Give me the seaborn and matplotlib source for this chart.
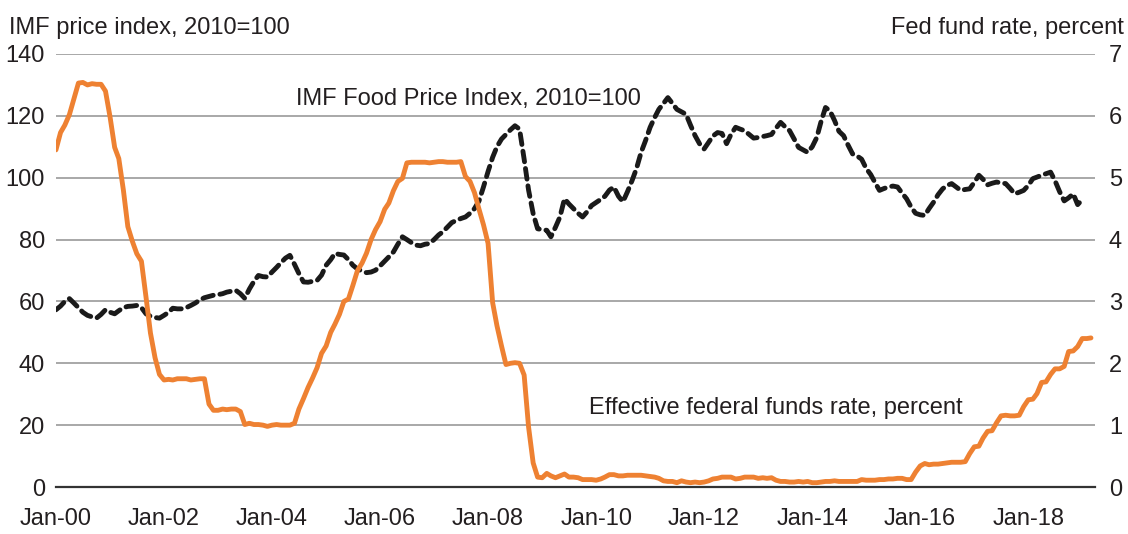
import pandas as pd
import numpy as np
import matplotlib
matplotlib.use('Agg')
import matplotlib.pyplot as plt
import matplotlib.dates as mdates
import seaborn as sns

# IMF Food Price Index (2010=100), monthly from Jan 2000 to Jan 2019
food_index = [
    57.3, 58.5, 60.0, 60.9, 59.5, 58.0, 56.5, 55.5, 55.0, 54.6, 55.8, 57.3,         # 2000
    56.5, 56.0, 57.0, 58.0, 58.4, 58.5, 58.7, 58.0, 56.0, 55.2, 54.8, 54.6,         # 2001
    55.5, 56.5, 57.8, 57.6, 57.6, 58.0, 58.7, 59.5, 60.5, 61.2, 61.6, 62.0,         # 2002
    62.2, 62.5, 63.0, 63.3, 63.6, 62.5, 61.0, 64.0, 66.5, 68.4, 68.0, 67.9,         # 2003
    69.5, 71.0, 72.5, 74.0, 74.9, 72.0, 69.0, 66.3, 66.2, 66.5, 66.8, 68.5,         # 2004
    71.7, 73.5, 75.5, 75.2, 75.0, 73.5, 71.7, 70.5, 69.8, 69.3, 69.5, 70.1,         # 2005
    71.5, 73.0, 74.4, 76.0, 78.5, 80.9, 80.0, 79.0, 78.2, 78.0, 78.5, 78.7,         # 2006
    80.0, 81.5, 82.5, 84.0, 85.5, 86.2, 86.8, 87.3, 88.5, 90.0, 92.5, 97.0,         # 2007
    102.0, 106.6, 110.0, 112.5, 114.0, 115.5, 116.8, 115.7, 106.0, 96.0, 88.4, 83.5,  # 2008
    83.2, 83.0, 80.9, 84.0, 87.3, 93.2, 91.5, 90.0, 88.5, 87.3, 89.0, 91.0,         # 2009
    92.0, 93.0, 94.0, 96.0, 97.0, 94.0, 92.2, 95.5, 99.1, 103.0, 108.2, 112.0,      # 2010
    116.3, 119.5, 122.1, 124.0, 125.9, 124.0, 122.1, 121.3, 120.5, 117.0, 113.6, 111.0,  # 2011
    109.3, 111.5, 113.5, 114.6, 114.3, 111.0, 114.0, 116.3, 115.7, 115.2, 114.0, 112.8,  # 2012
    113.0, 113.3, 113.6, 114.0, 116.0, 117.9, 116.5, 115.2, 112.5, 109.8, 109.0, 108.2,  # 2013
    110.0, 113.0, 118.0, 122.7, 121.6, 118.5, 115.0, 113.6, 110.5, 107.7, 107.0, 106.0,  # 2014
    103.0, 101.0, 98.5, 95.9, 96.5, 97.0, 97.3, 97.0, 95.0, 93.2, 90.5, 88.5,       # 2015
    88.0, 87.8, 90.0, 92.1, 94.5, 96.4, 97.5, 98.1, 97.0, 95.9, 96.2, 96.4,         # 2016
    98.5, 100.8, 99.5, 97.7, 98.2, 98.6, 98.3, 98.1, 96.5, 94.8, 95.3, 95.9,        # 2017
    97.5, 99.7, 100.2, 100.8, 101.3, 101.8, 99.0, 95.5, 92.5, 93.5, 94.8, 91.3,     # 2018
    92.9,                                                                           # 2019
]

# Effective federal funds rate (percent), monthly from Jan 2000 to Mar 2019
fed_rate = [
    5.45, 5.73, 5.85, 6.02, 6.27, 6.53, 6.54, 6.50, 6.52, 6.51, 6.51, 6.40,   # 2000
    5.98, 5.49, 5.31, 4.80, 4.21, 3.97, 3.77, 3.65, 3.07, 2.49, 2.09, 1.82,   # 2001
    1.73, 1.74, 1.73, 1.75, 1.75, 1.75, 1.73, 1.74, 1.75, 1.75, 1.34, 1.24,   # 2002
    1.24, 1.26, 1.25, 1.26, 1.26, 1.22, 1.01, 1.03, 1.01, 1.01, 1.00, 0.98,   # 2003
    1.00, 1.01, 1.00, 1.00, 1.00, 1.03, 1.26, 1.43, 1.61, 1.76, 1.93, 2.16,   # 2004
    2.28, 2.50, 2.63, 2.79, 3.00, 3.04, 3.26, 3.50, 3.62, 3.78, 4.00, 4.16,   # 2005
    4.29, 4.49, 4.59, 4.79, 4.94, 4.99, 5.24, 5.25, 5.25, 5.25, 5.25, 5.24,   # 2006
    5.25, 5.26, 5.26, 5.25, 5.25, 5.25, 5.26, 5.02, 4.94, 4.76, 4.49, 4.24,   # 2007
    3.94, 2.98, 2.61, 2.28, 1.98, 2.00, 2.01, 2.00, 1.81, 0.97, 0.39, 0.16,   # 2008
    0.15, 0.22, 0.18, 0.15, 0.18, 0.21, 0.16, 0.16, 0.15, 0.12, 0.12, 0.12,   # 2009
    0.11, 0.13, 0.16, 0.20, 0.20, 0.18, 0.18, 0.19, 0.19, 0.19, 0.19, 0.18,   # 2010
    0.17, 0.16, 0.14, 0.10, 0.09, 0.09, 0.07, 0.10, 0.08, 0.07, 0.08, 0.07,   # 2011
    0.08, 0.10, 0.13, 0.14, 0.16, 0.16, 0.16, 0.13, 0.14, 0.16, 0.16, 0.16,   # 2012
    0.14, 0.15, 0.14, 0.15, 0.11, 0.09, 0.09, 0.08, 0.08, 0.09, 0.08, 0.09,   # 2013
    0.07, 0.07, 0.08, 0.09, 0.09, 0.10, 0.09, 0.09, 0.09, 0.09, 0.09, 0.12,   # 2014
    0.11, 0.11, 0.11, 0.12, 0.12, 0.13, 0.13, 0.14, 0.14, 0.12, 0.12, 0.24,   # 2015
    0.34, 0.38, 0.36, 0.37, 0.37, 0.38, 0.39, 0.40, 0.40, 0.40, 0.41, 0.54,   # 2016
    0.65, 0.66, 0.79, 0.90, 0.91, 1.04, 1.15, 1.16, 1.15, 1.15, 1.16, 1.30,   # 2017
    1.41, 1.42, 1.51, 1.69, 1.70, 1.82, 1.91, 1.91, 1.95, 2.19, 2.20, 2.27,   # 2018
    2.40, 2.40, 2.41,                                                         # 2019
]

tick_years = ['2000', '2002', '2004', '2006', '2008', '2010', '2012', '2014', '2016', '2018']
left_ticks = [0, 20, 40, 60, 80, 100, 120, 140]
right_ticks = [0, 1, 2, 3, 4, 5, 6, 7]

food_df = pd.DataFrame({
    'date': pd.date_range('2000-01-01', periods=len(food_index), freq='MS'),
    'value': food_index,
})
fed_df = pd.DataFrame({
    'date': pd.date_range('2000-01-01', periods=len(fed_rate), freq='MS'),
    'value': fed_rate,
})

sns.set_style('white')
plt.rcParams['font.family'] = ['Liberation Sans', 'DejaVu Sans']
text_color = '#231f20'
orange = '#ee8132'
fs = 17

fig = plt.figure(figsize=(11.28, 5.34), dpi=100)
ax = fig.add_axes([0.0496, 0.088, 0.9211, 0.8109])
ax2 = ax.twinx()

sns.lineplot(data=food_df, x='date', y='value', ax=ax, color='#1a1a1a',
             lw=3.5, linestyle=(0, (2.2, 1.4)), dash_capstyle='round', zorder=3)
sns.lineplot(data=fed_df, x='date', y='value', ax=ax2, color=orange,
             lw=3.5, zorder=2)

ax.set_xlim(pd.Timestamp('2000-01-01'), pd.Timestamp('2019-03-28'))
ax.set_ylim(0, 140)
ax2.set_ylim(0, 7)
ax.set_yticks(left_ticks)
ax2.set_yticks(right_ticks)

ax.set_xticks([pd.Timestamp(y + '-01-01') for y in tick_years])
ax.xaxis.set_major_formatter(mdates.DateFormatter('%b-%y'))

ax.set_xlabel('')
ax.set_ylabel('')
ax2.set_ylabel('')

ax.yaxis.grid(True, color='#9a9a9a', lw=1.2)
ax.set_axisbelow(True)
ax2.grid(False)

for a in (ax, ax2):
    for s in ['top', 'left', 'right']:
        a.spines[s].set_visible(False)
ax2.spines['bottom'].set_visible(False)
ax.spines['bottom'].set_color('#333333')
ax.spines['bottom'].set_linewidth(1.6)

ax.tick_params(axis='x', length=7, width=1.6, color='#333333', direction='out',
               labelsize=fs, labelcolor=text_color, pad=8)
ax.tick_params(axis='y', length=0, labelsize=fs, labelcolor=text_color, pad=8)
ax2.tick_params(axis='y', length=0, labelsize=fs, labelcolor=text_color, pad=10)

fig.text(0.008, 0.948, 'IMF price index, 2010=100', fontsize=fs, color=text_color,
         ha='left', va='center')
fig.text(0.996, 0.948, 'Fed fund rate, percent', fontsize=fs, color=text_color,
         ha='right', va='center')

ax.text(pd.Timestamp('2004-06-10'), 125.5, 'IMF Food Price Index, 2010=100',
        fontsize=fs, color=text_color, ha='left', va='center')
ax.text(pd.Timestamp('2009-11-15'), 25.5, 'Effective federal funds rate, percent',
        fontsize=fs, color=text_color, ha='left', va='center')

fig.savefig('out.png', dpi=100)
